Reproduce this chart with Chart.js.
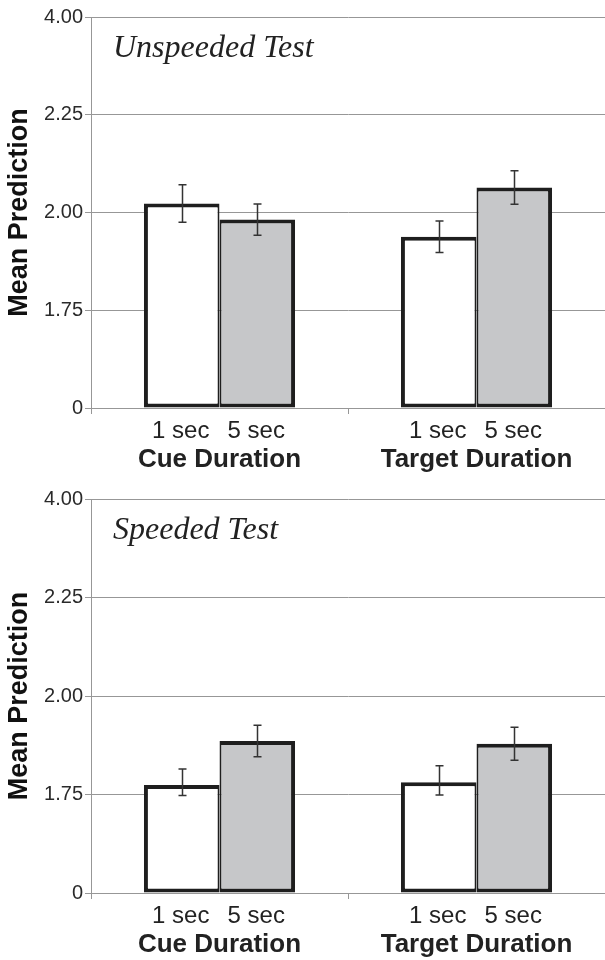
<!DOCTYPE html>
<html>
<head>
<meta charset="utf-8">
<script src="https://cdn.jsdelivr.net/npm/chart.js"></script>
<style>
  html, body { margin: 0; padding: 0; background: #fff; }
  .panel { width: 605px; height: 480px; }
</style>
</head>
<body>
<div class="panel"><canvas id="unspeeded" width="605" height="480"></canvas></div>
<div class="panel"><canvas id="speeded" width="605" height="480"></canvas></div>
<script>
// ---------- data ----------
const groups = ["Cue Duration", "Target Duration"];
const levels = ["1 sec", "5 sec"];

// broken axis: tick values evenly spaced
const yTickValues = [0, 1.75, 2.0, 2.25, 4.0];
const yTickLabels = ["0", "1.75", "2.00", "2.25", "4.00"];

const unspeeded1 = [2.023, 1.938];
const unspeeded5 = [1.982, 2.064];
const unspeededErr1 = [0.048, 0.04];
const unspeededErr5 = [0.04, 0.043];

const speeded1 = [1.774, 1.781];
const speeded5 = [1.886, 1.879];
const speededErr1 = [0.041, 0.042];
const speededErr5 = [0.04, 0.042];

// ---------- helpers ----------
// value -> position on the evenly spaced broken axis
function toPos(v) {
  for (let i = 0; i < yTickValues.length - 1; i++) {
    const a = yTickValues[i], b = yTickValues[i + 1];
    if (v <= b || i === yTickValues.length - 2) return i + (v - a) / (b - a);
  }
  return 0;
}

const INK = "#1e1e1e";
const GRID = "#979797";
const SANS = "'Liberation Sans', Arial, sans-serif";

// error bars drawn from the bar elements + y scale
const errorBars = {
  id: "errorBars",
  afterDatasetsDraw(chart) {
    const ctx = chart.ctx;
    const y = chart.scales.y;
    ctx.save();
    ctx.strokeStyle = "#333";
    ctx.lineWidth = 1.5;
    chart.data.datasets.forEach((ds, di) => {
      const meta = chart.getDatasetMeta(di);
      meta.data.forEach((bar, i) => {
        const v = ds.raw[i], e = ds.err[i];
        const top = y.getPixelForValue(toPos(v + e));
        const bot = y.getPixelForValue(toPos(v - e));
        const x = Math.round(bar.x) + 0.5;
        ctx.beginPath();
        ctx.moveTo(x, top); ctx.lineTo(x, bot);
        ctx.moveTo(x - 4, top); ctx.lineTo(x + 4, top);
        ctx.moveTo(x - 4, bot); ctx.lineTo(x + 4, bot);
        ctx.stroke();
      });
    });
    ctx.restore();
  }
};

// "1 sec" / "5 sec" under each bar + panel title inside the plot
const extraText = {
  id: "extraText",
  afterDraw(chart, args, opts) {
    const ctx = chart.ctx;
    const x = chart.scales.x;
    const area = chart.chartArea;
    ctx.save();
    ctx.fillStyle = "#222";
    ctx.font = "24px " + SANS;
    ctx.textAlign = "center";
    ctx.textBaseline = "alphabetic";
    chart.data.datasets.forEach((ds, di) => {
      chart.getDatasetMeta(di).data.forEach((bar) => {
        ctx.fillText(ds.label, bar.x - 1, x.top + 30);
      });
    });
    ctx.textAlign = "left";
    ctx.font = "italic 32px 'Liberation Serif', 'Times New Roman', serif";
    ctx.fillText(opts.title, area.left + 22, area.top + 40);
    ctx.restore();
  }
};

function makeChart(id, title, v1, v5, e1, e5, padTop, xHeight) {
  return new Chart(document.getElementById(id), {
    type: "bar",
    data: {
      labels: groups,
      datasets: [
        {
          label: levels[0],
          data: v1.map(toPos),
          raw: v1,
          err: e1,
          backgroundColor: "#ffffff",
          borderColor: INK,
          borderWidth: { top: 4, left: 4, bottom: 4, right: 2 },
          borderSkipped: false,
        },
        {
          label: levels[1],
          data: v5.map(toPos),
          raw: v5,
          err: e5,
          backgroundColor: "#c6c7c9",
          borderColor: INK,
          borderWidth: { top: 4, left: 2, bottom: 4, right: 4 },
          borderSkipped: false,
        },
      ],
    },
    options: {
      responsive: false,
      animation: false,
      layout: { padding: { top: padTop, right: 0, left: 0, bottom: 0 } },
      categoryPercentage: 0.588,
      barPercentage: 1,
      plugins: {
        legend: { display: false },
        tooltip: { enabled: false },
        extraText: { title: title },
      },
      scales: {
        x: {
          offset: true,
          grid: { display: true, drawOnChartArea: false, color: GRID, tickLength: 6 },
          border: { display: false },
          ticks: {
            color: "#222",
            font: { family: SANS, size: 26, weight: "bold" },
            padding: 30,
            maxRotation: 0,
          },
          afterFit(s) { s.height = xHeight; },
        },
        y: {
          min: 0,
          max: 4,
          grid: { color: GRID, lineWidth: 1, tickLength: 6 },
          border: { display: true, color: GRID },
          ticks: {
            stepSize: 1,
            padding: 2,
            color: "#2a2a2a",
            font: { family: SANS, size: 20 },
            callback: (v) => yTickLabels[v],
          },
          title: {
            display: true,
            text: "Mean Prediction",
            color: "#111",
            font: { family: SANS, size: 27, weight: "bold" },
            padding: { top: 3, bottom: 0 },
          },
          afterFit(s) { s.width = 91; },
        },
      },
    },
    plugins: [errorBars, extraText],
  });
}

makeChart("unspeeded", "Unspeeded Test", unspeeded1, unspeeded5, unspeededErr1, unspeededErr5, 17, 72);
makeChart("speeded", "Speeded Test", speeded1, speeded5, speededErr1, speededErr5, 19, 67);
</script>
</body>
</html>
